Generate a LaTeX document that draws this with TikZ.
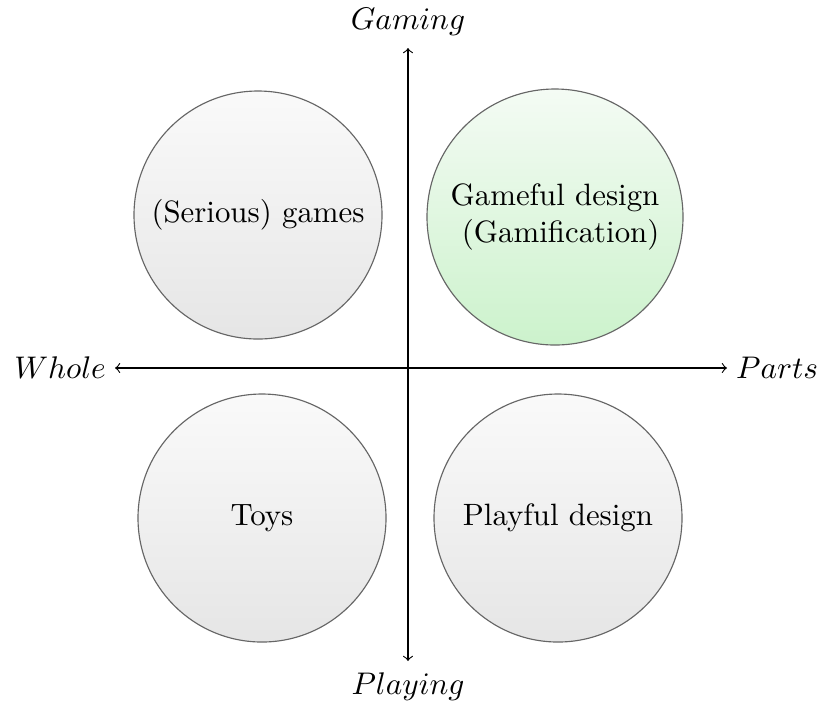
\documentclass[tikz,border=0pt]{standalone}
\definecolor{gtop}{HTML}{F4FBF4}
\definecolor{gbot}{HTML}{CCF2CC}
\begin{document}
\begin{tikzpicture}[x=0.35pt,y=-0.35pt,
  font=\fontsize{10.8}{13}\selectfont,
  bub/.style={circle,draw=black!60,thin,minimum size=248*0.35pt,inner sep=0pt,align=center,
    top color=black!2,bottom color=black!10},
  gbub/.style={bub,minimum size=256*0.35pt,align=right,top color=gtop,bottom color=gbot},
  axis/.style={<->,thin}]
\useasboundingbox (0,0) rectangle (819,702);
\coordinate (T) at (408,48);
\coordinate (B) at (408,661);
\coordinate (L) at (115,368);
\coordinate (R) at (727,368);
\draw[axis] (L) -- (R);
\draw[axis] (B) -- (T);
\node[anchor=south,inner sep=4pt] (gaming) at (T) {$Gaming$};
\node[anchor=north,inner sep=4pt] (playing) at (B) {$Playing$};
\node[anchor=east,inner sep=3pt] (whole) at (L) {$Whole$};
\node[anchor=west,inner sep=3pt] (parts) at (R) {$Parts$};
\node[bub] (sg) at (258,215) {(Serious) games};
\node[gbub] (gd) at (555,217) {Gameful design\\ (Gamification)};
\node[bub] (toys) at (262,518) {Toys};
\node[bub] (pd) at (558,518) {Playful design};
\end{tikzpicture}
\end{document}
